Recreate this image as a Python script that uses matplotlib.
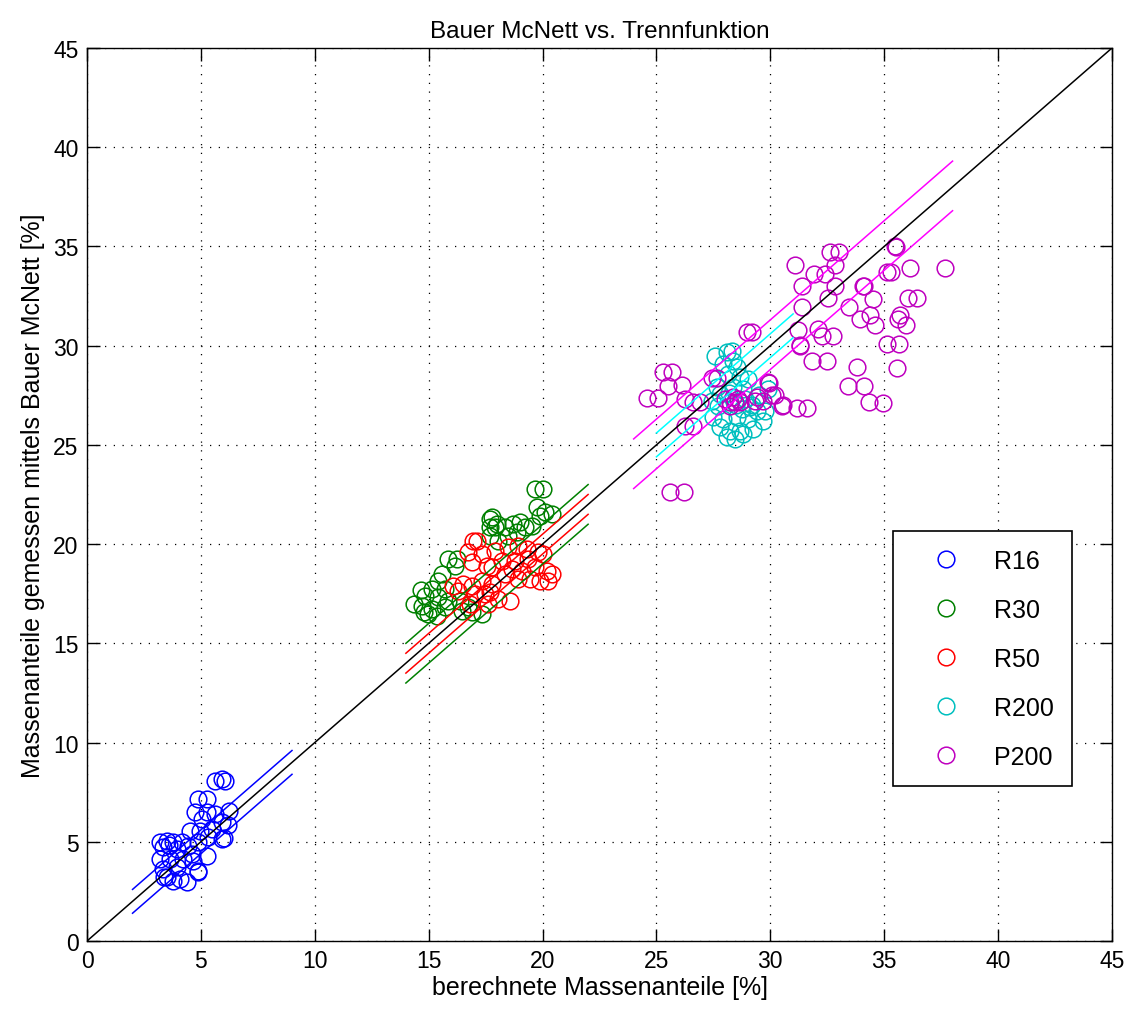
import matplotlib
matplotlib.use('Agg')
import matplotlib.pyplot as plt
import numpy as np

plt.rcParams['font.family'] = ['Liberation Sans', 'DejaVu Sans']

# Messpunkte (berechnet, gemessen) je Fraktion
r16_x = [5.62, 5.91, 6.06, 4.89, 5.25, 4.74, 5.25, 5.62, 5.91, 5.03, 4.52, 4.96, 5.47, 5.91, 5.32,
         4.89, 4.45, 3.20, 3.50, 3.79, 4.16, 3.35, 3.93, 5.25, 3.20, 3.64, 4.23, 4.67, 3.35, 3.93,
         4.89, 3.50, 4.08, 4.38, 3.79, 4.89, 6.00, 6.20, 6.23, 3.40, 4.60, 3.60]
r16_y = [8.08, 8.17, 8.08, 7.16, 7.16, 6.49, 6.49, 6.40, 5.98, 6.15, 5.56, 5.56, 5.65, 5.14, 5.23,
         4.97, 4.80, 4.97, 5.06, 4.97, 4.97, 4.72, 4.64, 4.30, 4.13, 4.13, 4.13, 4.05, 3.63, 3.71,
         3.54, 3.21, 3.13, 2.96, 3.04, 3.46, 5.20, 5.85, 6.55, 3.20, 4.40, 4.85]

r30_x = [17.69, 17.98, 17.69, 15.86, 16.23, 16.15, 15.57, 15.42, 15.13, 15.72, 14.84, 15.42, 15.86,
         14.69, 15.13, 15.72, 14.98, 15.35, 16.45, 16.89, 17.33, 16.74, 16.37, 14.35, 14.66, 14.80,
         19.67, 20.03, 19.74, 20.10, 20.40, 19.89, 17.77, 17.91, 18.35, 18.71, 19.01, 19.23, 18.49,
         18.86, 18.05, 17.69, 19.52]
r30_y = [21.27, 21.02, 20.85, 19.25, 19.25, 18.92, 18.50, 18.16, 17.74, 17.74, 17.40, 17.32, 17.15,
         16.90, 16.73, 16.81, 16.48, 16.40, 16.65, 16.56, 16.48, 16.81, 17.15, 17.00, 17.70, 16.60,
         22.78, 22.78, 21.86, 21.61, 21.52, 21.44, 21.35, 20.85, 20.85, 21.02, 21.10, 20.85, 20.43,
         20.60, 20.18, 20.43, 20.93]

r50_x = [16.96, 17.10, 16.74, 17.33, 16.89, 17.55, 16.08, 16.52, 16.30, 16.89, 17.33, 17.03, 17.47,
         17.62, 16.81, 17.91, 18.49, 18.93, 19.30, 19.81, 20.03, 18.20, 18.79, 19.37, 17.77, 18.64,
         19.08, 19.67, 20.18, 20.40, 18.35, 18.93, 19.45, 19.89, 20.25, 17.77, 17.69, 18.57, 18.05]
r50_y = [20.18, 20.18, 19.59, 19.50, 19.08, 18.92, 17.91, 17.99, 17.66, 17.91, 18.16, 17.49, 17.49,
         16.99, 16.99, 19.67, 19.84, 19.92, 19.76, 19.59, 19.50, 19.17, 19.17, 19.25, 18.83, 18.75,
         18.66, 18.83, 18.66, 18.50, 18.50, 18.25, 18.25, 18.16, 18.16, 17.99, 17.57, 17.15, 17.24]

r200_x = [27.57, 28.08, 28.30, 28.37, 27.93, 28.52, 28.15, 28.67, 29.03, 27.64, 27.79, 28.37, 28.81,
          27.42, 27.71, 28.74, 29.10, 29.40, 29.76, 27.49, 27.93, 28.52, 29.03, 29.69, 27.79, 28.23,
          28.67, 29.25, 28.08, 28.45, 28.81, 29.90, 29.50, 29.20, 28.90, 28.20, 28.50]
r200_y = [29.50, 29.67, 29.75, 29.25, 29.08, 28.91, 28.58, 28.41, 28.33, 27.91, 27.57, 27.91, 27.82,
          27.23, 26.98, 26.81, 26.90, 26.73, 26.73, 26.40, 26.31, 26.40, 26.31, 26.22, 25.89, 25.72,
          25.72, 25.81, 25.39, 25.30, 25.55, 27.80, 27.50, 27.00, 27.30, 27.60, 27.00]

p200_x = [24.57, 25.08, 25.30, 25.68, 25.49, 26.10, 26.25, 26.59, 26.90, 26.25, 26.62, 25.59, 26.22,
          27.42, 27.64, 28.96, 29.18, 28.23, 28.45, 28.67, 29.32, 29.91, 29.94, 30.06, 30.50, 31.18,
          31.59, 31.08, 32.62, 33.01, 32.84, 31.93, 32.40, 31.40, 32.84, 32.51, 31.37, 31.23, 32.10,
          32.25, 32.76, 31.30, 31.32, 31.84, 32.47, 33.82, 33.42, 34.11, 34.34, 33.47, 33.93, 34.37,
          34.59, 34.08, 34.10, 34.49, 35.47, 35.50, 35.10, 35.28, 36.13, 37.66, 36.06, 36.42, 35.69,
          35.62, 35.94, 35.10, 35.66, 35.54, 34.93, 28.00, 28.37, 28.60, 29.40, 29.66, 30.20, 30.57,
          28.23]
p200_y = [27.35, 27.35, 28.66, 28.66, 27.99, 28.02, 27.32, 27.18, 27.18, 25.97, 25.97, 22.65, 22.65,
          28.36, 28.36, 30.68, 30.68, 27.15, 27.15, 27.15, 27.23, 28.16, 28.10, 27.49, 26.98, 26.85,
          26.85, 34.04, 34.71, 34.71, 34.04, 33.62, 33.62, 33.03, 33.03, 32.39, 31.97, 30.81, 30.85,
          30.48, 30.48, 30.00, 30.05, 29.22, 29.22, 28.91, 27.95, 27.95, 27.15, 31.97, 31.35, 31.55,
          31.05, 33.03, 33.00, 32.36, 35.01, 34.95, 33.70, 33.70, 33.90, 33.90, 32.39, 32.39, 31.55,
          31.35, 31.05, 30.09, 30.09, 28.86, 27.12, 27.32, 27.40, 27.32, 27.40, 27.23, 27.49, 27.03,
          26.98]

labels = ['R16', 'R30', 'R50', 'R200', 'P200']
xs = [r16_x, r30_x, r50_x, r200_x, p200_x]
ys = [r16_y, r30_y, r50_y, r200_y, p200_y]
marker_colors = [(0, 0, 1), (0, 0.5, 0), (1, 0, 0), (0, 0.75, 0.75), (0.75, 0, 0.75)]
line_colors = [(0, 0, 1), (0, 0.5, 0), (1, 0, 0), (0, 1, 1), (1, 0, 1)]

# Toleranzbaender: x-Bereich und Abstand zur Winkelhalbierenden
band_start = [2, 14, 14, 25, 24]
band_end = [9, 22, 22, 31, 38]
band_up = [0.6, 1.0, 0.5, 0.6, 1.3]
band_down = [0.6, 1.0, 0.5, 0.6, 1.2]

fig = plt.figure(figsize=(11.34, 10.12), dpi=100)
ax = fig.add_axes([87 / 1134, 1 - 942 / 1012, 1025 / 1134, 893 / 1012])

ax.plot([0, 45], [0, 45], color='black', lw=1.1, zorder=3)

handles = []
for i in range(len(labels)):
    h, = ax.plot(xs[i], ys[i], linestyle='none', marker='o', markersize=12,
                 markerfacecolor='none', markeredgecolor=marker_colors[i], markeredgewidth=1.1,
                 label=labels[i], zorder=2)
    handles.append(h)
    bx = np.array([band_start[i], band_end[i]])
    ax.plot(bx, bx + band_up[i], color=line_colors[i], lw=1.1, zorder=4)
    ax.plot(bx, bx - band_down[i], color=line_colors[i], lw=1.1, zorder=4)

ax.set_xlim(0, 45)
ax.set_ylim(0, 45)
ax.set_xticks(np.arange(0, 46, 5))
ax.set_yticks(np.arange(0, 46, 5))
ax.tick_params(direction='in', length=9, width=1, top=True, right=True, labelsize=16.5, pad=6)
ax.grid(True, color='black', linestyle=(0, (1, 6)), linewidth=0.9)
for s in ax.spines.values():
    s.set_linewidth(1)

ax.set_xlabel('berechnete Massenanteile [%]', fontsize=18, labelpad=2)
ax.set_ylabel('Massenanteile gemessen mittels Bauer McNett [%]', fontsize=18, labelpad=6)
ax.set_title('Bauer McNett vs. Trennfunktion', fontsize=17.5, pad=8)

leg = ax.legend(handles=handles, loc='upper left', bbox_to_anchor=(0.786, 0.459),
                borderaxespad=0, fontsize=18, labelspacing=1.0, borderpad=0.7,
                handlelength=2.9, handletextpad=0.46, fancybox=False, framealpha=1)
leg.get_frame().set_edgecolor('black')
leg.get_frame().set_linewidth(1.2)
for lh in leg.legend_handles:
    lh.set_markersize(12)

fig.savefig('out.png', dpi=100)
